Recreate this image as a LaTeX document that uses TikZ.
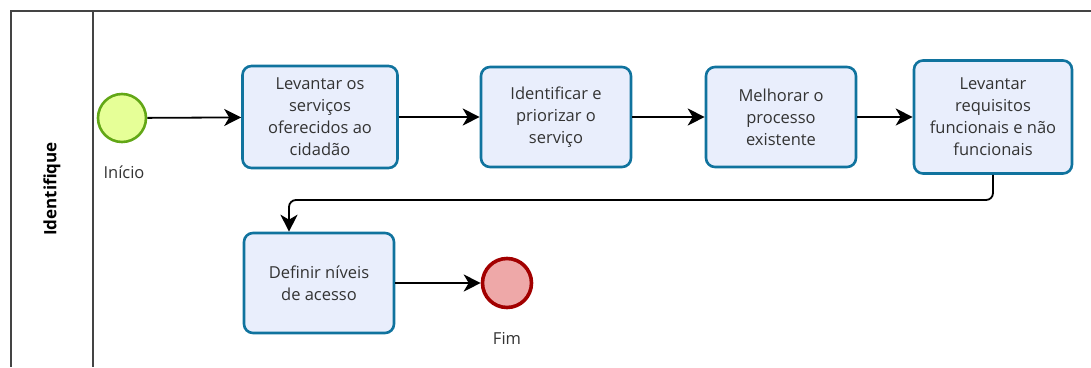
\documentclass[tikz,border=0pt]{standalone}
\usepackage{fontspec}
\setmainfont{Open Sans}
\usetikzlibrary{arrows.meta}

\definecolor{taskblue}{HTML}{10739E}
\definecolor{taskfill}{HTML}{E9EEFC}
\definecolor{startline}{HTML}{62A716}
\definecolor{startfill}{HTML}{E6FF97}
\definecolor{endline}{HTML}{A20000}
\definecolor{endfill}{HTML}{EEA8A8}
\definecolor{poolgray}{HTML}{444444}
\definecolor{textgray}{HTML}{333333}

\begin{document}
\begin{tikzpicture}[x=1pt,y=-1pt,
  task node/.style={rectangle,rounded corners=9pt,draw=taskblue,line width=2.6pt,
    fill=taskfill,align=center,text=textgray,font=\fontsize{16.5}{22}\selectfont,
    minimum width=150pt,minimum height=100pt,inner sep=2pt},
  start node/.style={circle,draw=startline,fill=startfill,line width=2.6pt,minimum size=48pt,inner sep=0pt},
  end node/.style={circle,draw=endline,fill=endfill,line width=3.6pt,minimum size=49pt,inner sep=0pt},
  event label/.style={text=textgray,font=\fontsize{16.5}{19}\selectfont},
  flow/.style={draw=black,line width=1.8pt,-{Stealth[length=17pt,width=17pt,inset=5pt]}}]

  \useasboundingbox (0,0) rectangle (1091,367);

  % pool and lane
  \draw[poolgray,line width=1.8pt] (1091,11) -- (11,11) -- (11,367);
  \draw[poolgray,line width=1.8pt] (93,11) -- (93,367);
  \node[rotate=90,text=black,font=\fontsize{17}{19}\bfseries] (lane) at (52,189) {Identifique};

  % events and tasks
  \node[start node] (start) at (122,118) {};
  \node[event label] (startlabel) at (124,172) {Início};
  \node[task node,minimum width=155pt,minimum height=102pt] (t1) at (320,117) {Levantar os\\serviços\\oferecidos ao\\cidadão};
  \node[task node] (t2) at (556,117) {Identificar e\\priorizar o\\serviço};
  \node[task node] (t3) at (781,117) {Melhorar o\\processo\\existente};
  \node[task node,minimum width=158pt,minimum height=113pt] (t4) at (993,117) {Levantar\\requisitos\\funcionais e não\\funcionais};
  \node[task node] (t5) at (319,283) {Definir níveis\\de acesso};
  \node[end node] (end) at (507,283) {};
  \node[event label] (endlabel) at (507,338) {Fim};

  \coordinate (turn) at (289,200);

  % sequence flows
  \path
  (start) [flow] edge (t1)
  (t1) [flow] edge (t2)
  (t2) [flow] edge (t3)
  (t3) [flow] edge (t4)
  (t5) [flow] edge (end);
  \draw[flow,rounded corners=7pt] (t4.south) |- (turn) -- (t5.north -| turn);

\end{tikzpicture}
\end{document}
